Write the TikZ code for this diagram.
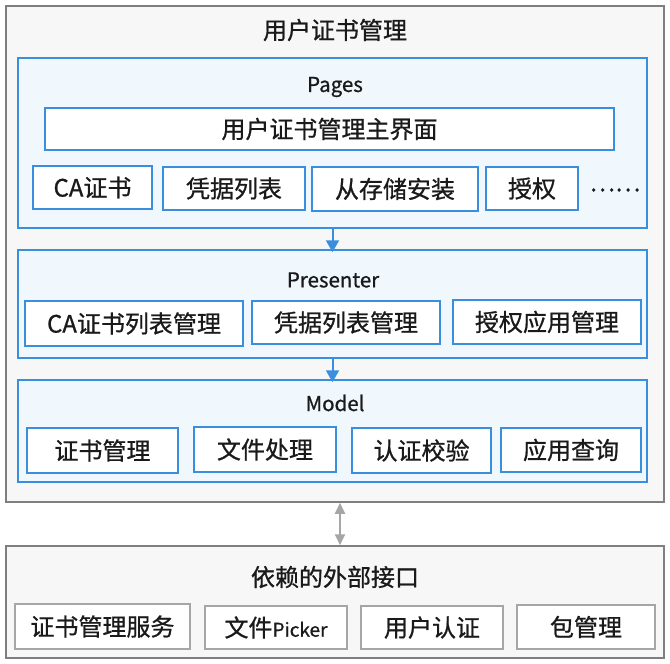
\documentclass[tikz,border=0pt]{standalone}
\usepackage{fontspec}
\setmainfont{Noto Sans CJK SC}[RawFeature={embolden=0.8}]
\usetikzlibrary{arrows.meta}
\definecolor{layerblue}{HTML}{3A8EDE}
\definecolor{layerfill}{HTML}{F0F8FE}
\definecolor{outerfill}{HTML}{F7F7F7}
\definecolor{outerline}{HTML}{7F7F7F}
\definecolor{extline}{HTML}{A6A6A6}
\definecolor{inktext}{HTML}{1A1A1A}
\begin{document}
\begin{tikzpicture}[x=1pt,y=-1pt,
    every node/.style={inner sep=0pt,text=inktext},
    outerbox/.style={draw=outerline,line width=1.5pt,fill=outerfill,rectangle},
    layerbox/.style={draw=layerblue,line width=1.5pt,fill=layerfill,rectangle},
    modbox/.style={draw=layerblue,line width=1.5pt,fill=white,rectangle,font=\fontsize{24}{28}\selectfont},
    extbox/.style={draw=extline,line width=1.5pt,fill=white,rectangle,font=\fontsize{24}{28}\selectfont},
    cntitle/.style={font=\fontsize{24}{28}\selectfont},
    entitle/.style={font=\fontsize{20.5}{24}\selectfont}]
  \useasboundingbox (0,0) rectangle (670,664);
  \node[outerbox,minimum width=658pt,minimum height=496pt] (outer) at (335,254) {};
  \node[cntitle] (outertitle) at (335,30) {用户证书管理};
  \node[layerbox,minimum width=629pt,minimum height=170pt] (pages) at (332.5,143) {};
  \node[entitle] (pagestitle) at (335,87) {Pages};
  \node[modbox,minimum width=569pt,minimum height=42pt] (mainui) at (329.5,129) {用户证书管理主界面};
  \node[modbox,minimum width=119pt,minimum height=43pt] (cacert) at (92.5,187.5) {CA证书};
  \node[modbox,minimum width=142pt,minimum height=43pt] (credlist) at (234,188.5) {凭据列表};
  \node[modbox,minimum width=166pt,minimum height=44pt] (install) at (395,189) {从存储安装};
  \node[modbox,minimum width=92pt,minimum height=43pt] (grant) at (532,188.5) {授权};
  \node[cntitle] (more) at (615,190) {……};
  \node[layerbox,minimum width=629pt,minimum height=108pt] (presenter) at (332.5,304) {};
  \node[entitle] (presentertitle) at (333,280) {Presenter};
  \node[modbox,minimum width=218pt,minimum height=45pt] (calistmgr) at (134,323.5) {CA证书列表管理};
  \node[modbox,minimum width=188pt,minimum height=43pt] (credlistmgr) at (346,322.5) {凭据列表管理};
  \node[modbox,minimum width=188pt,minimum height=44pt] (grantappmgr) at (547,322) {授权应用管理};
  \node[layerbox,minimum width=629pt,minimum height=102pt] (model) at (332.5,431) {};
  \node[entitle] (modeltitle) at (335,403) {Model};
  \node[modbox,minimum width=151pt,minimum height=45pt] (certmgr) at (102.5,450.5) {证书管理};
  \node[modbox,minimum width=142pt,minimum height=45pt] (fileproc) at (265,449.5) {文件处理};
  \node[modbox,minimum width=139pt,minimum height=45pt] (authcheck) at (421.5,450.5) {认证校验};
  \node[modbox,minimum width=140pt,minimum height=44pt] (appquery) at (571,450) {应用查询};
  \node[outerbox,minimum width=658pt,minimum height=112pt] (ext) at (335,602) {};
  \node[cntitle] (exttitle) at (335,577) {依赖的外部接口};
  \node[extbox,minimum width=175pt,minimum height=45pt] (certsvc) at (102.5,626.5) {证书管理服务};
  \node[extbox,minimum width=142pt,minimum height=43pt] (picker) at (276,627.5) {文件{\fontsize{19}{22}\selectfont Picker}};
  \node[extbox,minimum width=142pt,minimum height=43pt] (userauth) at (432,627.5) {用户认证};
  \node[extbox,minimum width=138pt,minimum height=44pt] (bundlemgr) at (586,627) {包管理};
  \begin{scope}[draw=layerblue,line width=2pt,-{Triangle[width=13pt,length=12pt]}]
    \draw (pages.south) -- ([yshift=-3pt]presenter.north);
    \draw (presenter.south) -- ([yshift=-3pt]model.north);
  \end{scope}
  \begin{scope}[draw=extline,line width=2pt,{Triangle[width=10pt,length=11pt]}-{Triangle[width=10pt,length=11pt]}]
    \draw ([xshift=5pt]outer.south) -- ([xshift=5pt]ext.north);
  \end{scope}
\end{tikzpicture}
\end{document}
